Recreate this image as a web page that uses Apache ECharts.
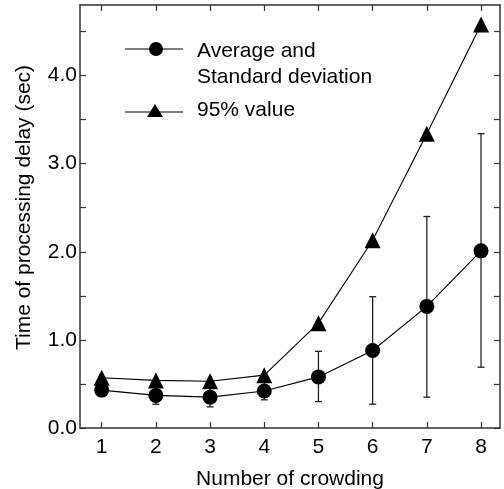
<!DOCTYPE html>
<html><head><meta charset="utf-8">
<script src="https://cdn.jsdelivr.net/npm/echarts@6/dist/echarts.min.js"></script>
<style>html,body{margin:0;padding:0;background:#fff}#c{width:504px;height:489px}</style>
</head><body><div id="c"></div>
<script>
const crowding = [1, 2, 3, 4, 5, 6, 7, 8];
const averageDelay = [0.43, 0.37, 0.35, 0.42, 0.58, 0.88, 1.38, 2.01];
const sdLow = [0.39, 0.27, 0.24, 0.32, 0.30, 0.27, 0.35, 0.69];
const sdHigh = [0.47, 0.47, 0.47, 0.52, 0.87, 1.49, 2.40, 3.34];
const value95 = [0.57, 0.54, 0.53, 0.60, 1.19, 2.13, 3.34, 4.58];
const xTicks = [1, 2, 3, 4, 5, 6, 7, 8];
const yTicks = [0, 0.5, 1, 1.5, 2, 2.5, 3, 3.5, 4, 4.5];
const yLabels = [0, 1, 2, 3, 4];

const FONT = 'Liberation Sans';
const FS = 21;
const chart = echarts.init(document.getElementById('c'), null, {renderer: 'canvas'});
const axisLineStyle = {color: '#333', width: 1.5};
const tickCommon = {inside: true, length: 6, lineStyle: {color: '#333', width: 1.2}};

chart.setOption({
  animation: false,
  backgroundColor: '#fff',
  grid: {left: 80, right: 4, top: 5, bottom: 61, containLabel: false, outerBoundsMode: 'none'},
  xAxis: [{
    type: 'value', min: 0.6, max: 8.35, position: 'bottom',
    axisLine: {show: true, onZero: false, lineStyle: axisLineStyle},
    axisTick: Object.assign({customValues: xTicks}, tickCommon),
    axisLabel: {customValues: xTicks, color: '#000', fontFamily: FONT, fontSize: FS, margin: 9,
      formatter: v => String(v)},
    splitLine: {show: false},
    name: 'Number of crowding', nameLocation: 'middle', nameGap: 41,
    nameTextStyle: {color: '#000', fontFamily: FONT, fontSize: FS}
  }, {
    type: 'value', min: 0.6, max: 8.35, position: 'top',
    axisLine: {show: true, onZero: false, lineStyle: axisLineStyle},
    axisTick: Object.assign({customValues: xTicks}, tickCommon),
    axisLabel: {show: false}, splitLine: {show: false}
  }],
  yAxis: [{
    type: 'value', min: 0, max: 4.8, position: 'left',
    axisLine: {show: true, onZero: false, lineStyle: axisLineStyle},
    axisTick: Object.assign({customValues: yTicks}, tickCommon),
    axisLabel: {customValues: yLabels, color: '#000', fontFamily: FONT, fontSize: FS, margin: 3,
      formatter: v => v.toFixed(1)},
    splitLine: {show: false},
    name: 'Time of processing delay (sec)', nameLocation: 'middle', nameGap: 45,
    nameTextStyle: {color: '#000', fontFamily: FONT, fontSize: FS, padding: [0, 0, 0, 18]}
  }, {
    type: 'value', min: 0, max: 4.8, position: 'right',
    axisLine: {show: true, onZero: false, lineStyle: axisLineStyle},
    axisTick: Object.assign({customValues: yTicks}, tickCommon),
    axisLabel: {show: false}, splitLine: {show: false}
  }],
  series: [{
    type: 'custom', name: 'sd',
    data: crowding.map((x, i) => [x, sdLow[i], sdHigh[i]]),
    renderItem: (params, api) => {
      const lo = api.coord([api.value(0), api.value(1)]);
      const hi = api.coord([api.value(0), api.value(2)]);
      const w = 3.5;
      const st = {stroke: '#222', lineWidth: 1.3};
      return {type: 'group', children: [
        {type: 'line', shape: {x1: lo[0], y1: lo[1], x2: hi[0], y2: hi[1]}, style: st},
        {type: 'line', shape: {x1: lo[0] - w, y1: lo[1], x2: lo[0] + w, y2: lo[1]}, style: st},
        {type: 'line', shape: {x1: hi[0] - w, y1: hi[1], x2: hi[0] + w, y2: hi[1]}, style: st}
      ]};
    },
    z: 1
  }, {
    type: 'line', name: 'Average and Standard deviation',
    data: crowding.map((x, i) => [x, averageDelay[i]]),
    symbol: 'circle', symbolSize: 15,
    lineStyle: {color: '#000', width: 1.1}, itemStyle: {color: '#000'}, z: 3
  }, {
    type: 'line', name: '95% value',
    data: crowding.map((x, i) => [x, value95[i]]),
    symbol: 'triangle', symbolSize: 16,
    lineStyle: {color: '#000', width: 1.1}, itemStyle: {color: '#000'}, z: 3
  }],
  graphic: [
    {type: 'line', shape: {x1: 125, y1: 49, x2: 183, y2: 49}, style: {stroke: '#000', lineWidth: 1.2}},
    {type: 'circle', shape: {cx: 156, cy: 49, r: 7}, style: {fill: '#000'}},
    {type: 'text', x: 197, y: 51, style: {text: 'Average and', font: FS + 'px "Liberation Sans"', fill: '#000', verticalAlign: 'middle'}},
    {type: 'text', x: 197, y: 77, style: {text: 'Standard deviation', font: FS + 'px "Liberation Sans"', fill: '#000', verticalAlign: 'middle'}},
    {type: 'line', shape: {x1: 125, y1: 112, x2: 183, y2: 112}, style: {stroke: '#000', lineWidth: 1.2}},
    {type: 'polygon', shape: {points: [[155, 104], [163, 117], [147, 117]]}, style: {fill: '#000'}},
    {type: 'text', x: 197, y: 110, style: {text: '95% value', font: FS + 'px "Liberation Sans"', fill: '#000', verticalAlign: 'middle'}}
  ]
});
</script></body></html>
